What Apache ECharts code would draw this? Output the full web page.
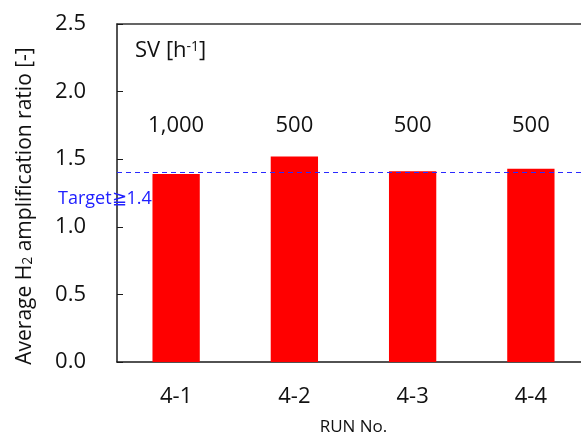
<!DOCTYPE html>
<html><head><meta charset="utf-8">
<script src="https://cdn.jsdelivr.net/npm/echarts@6/dist/echarts.min.js"></script>
<style>html,body{margin:0;padding:0;background:#fff}#c{width:581px;height:434px}</style>
</head><body><div id="c"></div>
<script>
var runs = ['4-1', '4-2', '4-3', '4-4'];
var ratios = [1.39, 1.52, 1.41, 1.43];
var svLabels = ['1,000', '500', '500', '500'];
var target = 1.4;
var yTicks = {min: 0, max: 2.5, interval: 0.5};
var FONT = 'Open Sans';

var chart = echarts.init(document.getElementById('c'), null, {renderer: 'canvas'});
chart.setOption({
  animation: false,
  textStyle: {fontFamily: FONT},
  grid: {left: 117, right: -9, top: 24, bottom: 72, containLabel: false, outerBoundsMode: 'none'},
  xAxis: [{
    type: 'category', data: runs, position: 'bottom',
    axisLine: {lineStyle: {color: '#1a1a1a', width: 1.5}},
    axisTick: {inside: true, length: 7, lineStyle: {color: '#1a1a1a'}},
    axisLabel: {color: '#111', fontSize: 22, margin: 24, fontFamily: FONT},
    name: 'RUN No.', nameLocation: 'middle', nameGap: 57,
    nameTextStyle: {color: '#111', fontSize: 17, fontFamily: FONT}
  }, {
    type: 'category', data: svLabels, position: 'top',
    axisLine: {show: true, lineStyle: {color: '#333', width: 1.5}},
    axisTick: {show: false},
    axisLabel: {inside: true, color: '#111', fontSize: 22, margin: 91, fontFamily: FONT}
  }],
  yAxis: {
    type: 'value', min: yTicks.min, max: yTicks.max, interval: yTicks.interval,
    axisLine: {show: true, lineStyle: {color: '#1a1a1a', width: 1.5}},
    axisTick: {show: true, inside: true, length: 6, lineStyle: {color: '#1a1a1a'}},
    splitLine: {show: false},
    axisLabel: {color: '#111', fontSize: 22, margin: 31, fontFamily: FONT,
      formatter: function (v) { return v.toFixed(1); }}
  },
  series: [{
    type: 'bar', data: ratios, xAxisIndex: 0,
    barCategoryGap: '60%',
    itemStyle: {color: '#ff0000'},
    markLine: {
      symbol: 'none', silent: true,
      lineStyle: {color: '#2a2aff', type: [5, 4], width: 1.2},
      label: {show: true, position: 'insideStartBottom', formatter: 'Target≧1.4',
        color: '#2020ff', fontSize: 18, fontFamily: FONT, offset: [-64, 12]},
      data: [{yAxis: target}]
    }
  }],
  graphic: [{
    type: 'text', left: 135, top: 40,
    style: {
      text: 'SV [h{sup|-1}]',
      font: '22px ' + FONT, fill: '#111',
      rich: {sup: {fontSize: 14, verticalAlign: 'top', lineHeight: 14, fill: '#111', fontFamily: FONT}}
    }
  }, {
    type: 'text', x: 25, y: 206, rotation: Math.PI / 2,
    style: {
      text: 'Average H{sub|2} amplification ratio [-]',
      font: '21px ' + FONT, fill: '#111', align: 'center', verticalAlign: 'middle',
      rich: {sub: {fontSize: 14, verticalAlign: 'bottom', lineHeight: 16, fill: '#111', fontFamily: FONT}}
    }
  }]
});
</script></body></html>
